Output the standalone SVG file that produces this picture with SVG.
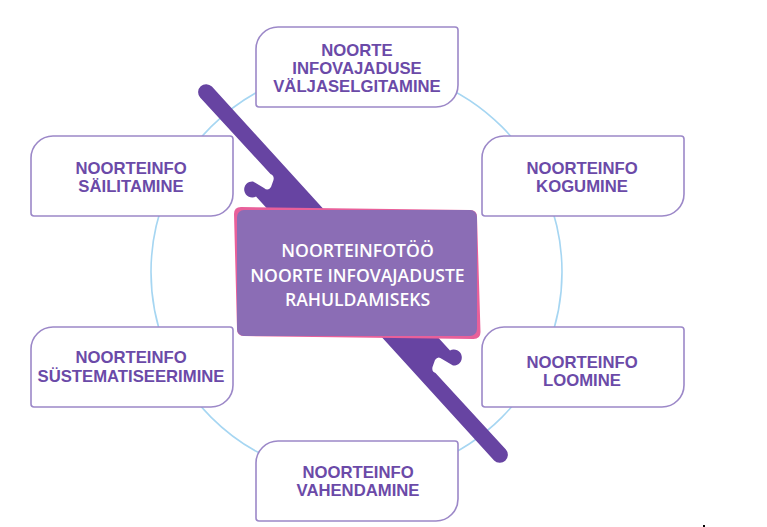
<svg xmlns="http://www.w3.org/2000/svg" width="767" height="527" viewBox="0 0 767 527">
<style>
.node-shape{fill:#ffffff;stroke:#9C88C8;stroke-width:1.6}
.node-text{font-family:"Liberation Sans",Arial,sans-serif;font-weight:bold;font-size:16.7px;fill:#6B4AA8;text-anchor:middle}
.center-text{font-family:"Open Sans","Liberation Sans",sans-serif;font-weight:600;font-size:17.6px;fill:#ffffff;text-anchor:middle}
.bar{fill:#6744A2}
.ring{fill:none;stroke:#A6D6F2;stroke-width:1.6}
</style>
<defs>
<path id="nodeShape" d="M0,22 A22,22 0 0 1 22,0 L199,0 A3,3 0 0 1 202,3 L202,58 A22,22 0 0 1 180,80 L3,80 A3,3 0 0 1 0,77 Z"/>
<path id="barPiece" d="M200.1,97.4 A8,8 0 0 1 211.9,86.6 L328,214 L272,214 L256,196.5 A8,8 0 1 1 253,181.5 L264,188 Q268,191.5 271,187 L273.5,180 Q274.5,175.5 270.5,174 Z"/>
</defs>
<rect width="767" height="527" fill="#ffffff"/>
<g id="connectors">
<circle class="ring" cx="356.5" cy="272" r="205.5"/>
<use href="#barPiece" class="bar"/>
<use href="#barPiece" class="bar" transform="rotate(180 353 273.5)"/>
</g>
<g id="node-valjaselgitamine" transform="translate(256,27)">
<use href="#nodeShape" class="node-shape"/>
<text class="node-text" x="101" y="29">NOORTE</text>
<text class="node-text" x="101" y="47">INFOVAJADUSE</text>
<text class="node-text" x="101" y="65">VÄLJASELGITAMINE</text>
</g>
<g id="node-kogumine" transform="translate(482,136)">
<use href="#nodeShape" class="node-shape"/>
<text class="node-text" x="100" y="38">NOORTEINFO</text>
<text class="node-text" x="100" y="56">KOGUMINE</text>
</g>
<g id="node-loomine" transform="translate(482,327)">
<use href="#nodeShape" class="node-shape"/>
<text class="node-text" x="100" y="41">NOORTEINFO</text>
<text class="node-text" x="100" y="59">LOOMINE</text>
</g>
<g id="node-vahendamine" transform="translate(256,441)">
<use href="#nodeShape" class="node-shape"/>
<text class="node-text" x="102" y="37">NOORTEINFO</text>
<text class="node-text" x="102" y="55">VAHENDAMINE</text>
</g>
<g id="node-systematiseerimine" transform="translate(31,327)">
<use href="#nodeShape" class="node-shape"/>
<text class="node-text" x="100" y="36">NOORTEINFO</text>
<text class="node-text" x="100" y="55">SÜSTEMATISEERIMINE</text>
</g>
<g id="node-sailitamine" transform="translate(31,136)">
<use href="#nodeShape" class="node-shape"/>
<text class="node-text" x="100" y="38">NOORTEINFO</text>
<text class="node-text" x="100" y="56">SÄILITAMINE</text>
</g>
<g id="node-center">
<path d="M241,207 L470,210 Q477,210 477,217 L480.5,332 Q480.5,339 473.5,339 L244,336 Q237,336 237,329 L234,214 Q234,207 241,207 Z" fill="#E8609A"/>
<rect x="237" y="210" width="240" height="126" rx="7" fill="#8B6DB5"/>
<text class="center-text" x="357.5" y="257">NOORTEINFOTÖÖ</text>
<text class="center-text" x="357.5" y="282">NOORTE INFOVAJADUSTE</text>
<text class="center-text" x="357.5" y="306">RAHULDAMISEKS</text>
</g>
<rect x="703" y="525" width="2" height="2" fill="#000000"/>
</svg>
